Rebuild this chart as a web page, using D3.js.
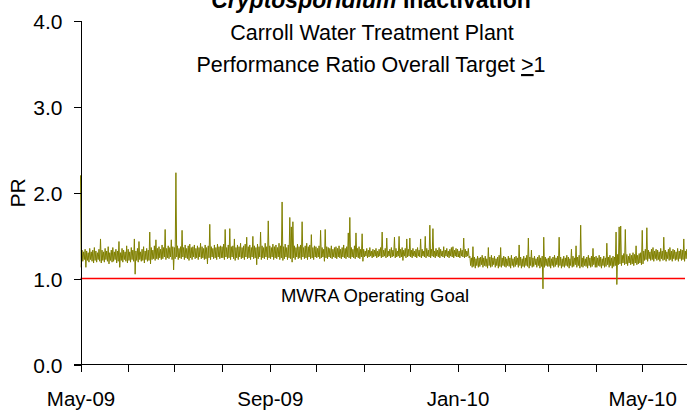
<!DOCTYPE html>
<html>
<head>
<meta charset="utf-8">
<script src="https://cdn.jsdelivr.net/npm/d3@7"></script>
<style>
  body { margin: 0; background: #fff; }
  svg { display: block; font-family: "Liberation Sans", Arial, sans-serif; }
  .axis path, .axis line { stroke: #000; shape-rendering: crispEdges; }
  .axis text { fill: #000; }
</style>
</head>
<body>
<div id="chart"></div>
<script>
var startDate = new Date(2009, 4, 1);
var endDate = new Date(2010, 5, 1);
var yTicks = [0, 1, 2, 3, 4];
var labelMonths = ["May-09", "Sep-09", "Jan-10", "May-10"];
var goalValue = 1.0;
var goalLabel = "MWRA Operating Goal";
var titleLines = ["Carroll Water Treatment Plant", "Performance Ratio Overall Target "];

// daily high of the PR trace, one row per month
var dailyHigh = [
  2.20, 1.33, 1.31, 1.34, 1.32, 1.30, 1.35, 1.31, 1.33, 1.36, 1.32, 1.30, 1.34, 1.46, 1.33, 1.31, 1.35, 1.32, 1.37, 1.30, 1.33, 1.36, 1.31, 1.34, 1.32, 1.43, 1.30, 1.35, 1.33, 1.31, 1.38,
  1.34, 1.31, 1.36, 1.33, 1.46, 1.32, 1.35, 1.43, 1.31, 1.34, 1.37, 1.32, 1.35, 1.33, 1.54, 1.36, 1.33, 1.38, 1.45, 1.35, 1.37, 1.34, 1.39, 1.36, 1.57, 1.35, 1.38, 1.36, 1.45, 1.37,
  1.36, 2.23, 1.38, 1.35, 1.37, 1.56, 1.36, 1.39, 1.35, 1.38, 1.40, 1.36, 1.37, 1.39, 1.35, 1.38, 1.36, 1.41, 1.37, 1.35, 1.39, 1.36, 1.38, 1.63, 1.37, 1.35, 1.39, 1.36, 1.40, 1.37, 1.38,
  1.37, 1.40, 1.57, 1.36, 1.39, 1.58, 1.37, 1.38, 1.46, 1.36, 1.39, 1.37, 1.41, 1.36, 1.38, 1.40, 1.48, 1.37, 1.39, 1.36, 1.49, 1.38, 1.36, 1.40, 1.37, 1.54, 1.38, 1.36, 1.41, 1.37, 1.67,
  1.38, 1.36, 1.40, 1.37, 1.39, 1.36, 1.41, 1.38, 1.89, 1.37, 1.40, 1.36, 1.39, 1.71, 1.60, 1.66, 1.38, 1.36, 1.40, 1.37, 1.39, 1.66, 1.36, 1.38, 1.41, 1.37, 1.39, 1.51, 1.36, 1.38,
  1.37, 1.35, 1.38, 1.56, 1.36, 1.34, 1.57, 1.37, 1.36, 1.35, 1.38, 1.34, 1.36, 1.37, 1.35, 1.38, 1.34, 1.36, 1.39, 1.35, 1.37, 1.53, 1.71, 1.36, 1.34, 1.38, 1.53, 1.35, 1.37, 1.34, 1.52,
  1.34, 1.32, 1.35, 1.33, 1.36, 1.32, 1.34, 1.33, 1.35, 1.32, 1.34, 1.36, 1.54, 1.33, 1.35, 1.47, 1.32, 1.34, 1.36, 1.33, 1.48, 1.35, 1.32, 1.49, 1.34, 1.36, 1.33, 1.35, 1.46, 1.34,
  1.47, 1.33, 1.35, 1.32, 1.34, 1.36, 1.33, 1.46, 1.34, 1.32, 1.49, 1.35, 1.33, 1.62, 1.34, 1.58, 1.32, 1.35, 1.33, 1.36, 1.34, 1.32, 1.37, 1.33, 1.35, 1.32, 1.34, 1.36, 1.37, 1.33, 1.35,
  1.34, 1.32, 1.35, 1.33, 1.47, 1.34, 1.32, 1.35, 1.26, 1.24, 1.37, 1.25, 1.23, 1.26, 1.24, 1.25, 1.27, 1.24, 1.26, 1.23, 1.36, 1.25, 1.27, 1.24, 1.26, 1.23, 1.25, 1.27, 1.36, 1.24, 1.26,
  1.25, 1.23, 1.26, 1.24, 1.27, 1.23, 1.25, 1.26, 1.24, 1.39, 1.25, 1.23, 1.26, 1.24, 1.27, 1.47, 1.25, 1.33, 1.24, 1.26, 1.23, 1.25, 1.27, 1.24, 1.26, 1.48, 1.25, 1.23,
  1.24, 1.26, 1.23, 1.25, 1.27, 1.24, 1.26, 1.48, 1.25, 1.23, 1.26, 1.24, 1.27, 1.25, 1.23, 1.34, 1.26, 1.24, 1.38, 1.25, 1.27, 1.62, 1.24, 1.26, 1.23, 1.25, 1.27, 1.24, 1.26, 1.35, 1.25,
  1.26, 1.24, 1.27, 1.25, 1.23, 1.26, 1.24, 1.41, 1.25, 1.27, 1.24, 1.26, 1.25, 1.54, 1.28, 1.60, 1.61, 1.27, 1.29, 1.57, 1.28, 1.26, 1.29, 1.27, 1.30, 1.28, 1.38, 1.27, 1.29, 1.30,
  1.56, 1.32, 1.34, 1.59, 1.33, 1.31, 1.34, 1.36, 1.32, 1.34, 1.33, 1.31, 1.35, 1.32, 1.48, 1.33, 1.31, 1.34, 1.36, 1.32, 1.34, 1.33, 1.31, 1.35, 1.32, 1.34, 1.33, 1.46, 1.32, 1.34
];

// daily low of the PR trace, one row per month
var dailyLow = [
  1.13, 1.20, 1.22, 1.13, 1.21, 1.19, 1.22, 1.20, 1.18, 1.21, 1.19, 1.22, 1.20, 1.18, 1.21, 1.19, 1.22, 1.20, 1.17, 1.21, 1.19, 1.20, 1.22, 1.18, 1.20, 1.13, 1.21, 1.19, 1.22, 1.20, 1.18,
  1.21, 1.19, 1.22, 1.20, 1.05, 1.21, 1.19, 1.22, 1.20, 1.21, 1.18, 1.22, 1.20, 1.21, 1.17, 1.22, 1.23, 1.21, 1.23, 1.22, 1.24, 1.22, 1.23, 1.25, 1.22, 1.24, 1.23, 1.25, 1.22, 1.10,
  1.23, 1.25, 1.22, 1.24, 1.23, 1.25, 1.22, 1.24, 1.23, 1.21, 1.24, 1.22, 1.25, 1.23, 1.24, 1.22, 1.25, 1.23, 1.24, 1.22, 1.23, 1.17, 1.24, 1.22, 1.25, 1.23, 1.24, 1.22, 1.25, 1.23, 1.24,
  1.24, 1.22, 1.25, 1.23, 1.24, 1.22, 1.25, 1.23, 1.21, 1.24, 1.22, 1.25, 1.23, 1.24, 1.22, 1.25, 1.23, 1.24, 1.22, 1.25, 1.23, 1.24, 1.16, 1.23, 1.25, 1.22, 1.24, 1.23, 1.25, 1.22, 1.24,
  1.23, 1.25, 1.22, 1.24, 1.23, 1.25, 1.22, 1.24, 1.21, 1.23, 1.25, 1.22, 1.24, 1.23, 1.19, 1.24, 1.22, 1.25, 1.23, 1.24, 1.22, 1.25, 1.23, 1.24, 1.22, 1.25, 1.23, 1.24, 1.22, 1.25,
  1.24, 1.25, 1.23, 1.24, 1.25, 1.20, 1.24, 1.23, 1.25, 1.24, 1.23, 1.25, 1.24, 1.23, 1.25, 1.24, 1.23, 1.25, 1.24, 1.23, 1.25, 1.24, 1.23, 1.25, 1.24, 1.23, 1.25, 1.24, 1.23, 1.25, 1.20,
  1.25, 1.26, 1.24, 1.25, 1.26, 1.24, 1.25, 1.26, 1.24, 1.25, 1.26, 1.24, 1.25, 1.26, 1.24, 1.25, 1.26, 1.24, 1.25, 1.26, 1.24, 1.25, 1.26, 1.24, 1.25, 1.21, 1.26, 1.24, 1.25, 1.26,
  1.25, 1.24, 1.26, 1.25, 1.24, 1.26, 1.25, 1.24, 1.26, 1.25, 1.24, 1.26, 1.25, 1.24, 1.26, 1.25, 1.24, 1.26, 1.25, 1.24, 1.26, 1.25, 1.24, 1.26, 1.25, 1.24, 1.26, 1.25, 1.24, 1.26, 1.25,
  1.25, 1.24, 1.26, 1.25, 1.24, 1.25, 1.26, 1.24, 1.15, 1.13, 1.14, 1.12, 1.15, 1.13, 1.14, 1.16, 1.13, 1.15, 1.14, 1.12, 1.15, 1.13, 1.14, 1.16, 1.13, 1.15, 1.12, 1.14, 1.13, 1.15, 1.14,
  1.13, 1.15, 1.14, 1.12, 1.15, 1.13, 1.14, 1.16, 1.13, 1.15, 1.12, 1.14, 1.13, 1.15, 1.14, 1.12, 1.15, 1.13, 1.14, 1.16, 1.13, 1.15, 1.12, 1.14, 0.88, 1.13, 1.15, 1.14,
  1.14, 1.12, 1.15, 1.13, 1.14, 1.16, 1.13, 1.15, 1.12, 1.14, 1.13, 1.15, 1.14, 1.12, 1.15, 1.13, 1.14, 1.16, 1.13, 1.15, 1.12, 1.14, 1.13, 1.15, 1.14, 1.12, 1.15, 1.13, 1.14, 1.16, 1.13,
  1.13, 1.15, 1.14, 1.12, 1.15, 1.13, 1.14, 1.16, 1.13, 1.15, 1.12, 1.14, 1.15, 0.93, 1.16, 1.17, 1.15, 1.18, 1.16, 1.17, 1.15, 1.18, 1.16, 1.17, 1.15, 1.18, 1.16, 1.17, 1.18, 1.16,
  1.17, 1.21, 1.22, 1.20, 1.23, 1.21, 1.22, 1.20, 1.23, 1.21, 1.22, 1.20, 1.23, 1.21, 1.22, 1.20, 1.23, 1.21, 1.22, 1.20, 1.23, 1.21, 1.22, 1.20, 1.23, 1.21, 1.22, 1.20, 1.23, 1.21
];

var width = 687, height = 413;

var svg = d3.select('#chart')
  .append('svg')
  .attr('width', width)
  .attr('height', height);

var x = d3.scaleTime()
  .domain([startDate, endDate])
  .range([80.5, 80.5 + 396 * 1.539]);

var y = d3.scaleLinear()
  .domain([0, 4])
  .range([364.5, 20.5]);

// title
var title = svg.append('g')
  .attr('text-anchor', 'middle')
  .attr('fill', '#000');

var t0 = title.append('text')
  .attr('x', 371)
  .attr('y', 8)
  .style('font-size', '23px')
  .style('font-weight', 'bold');
t0.append('tspan').style('font-style', 'italic').text('Cryptosporidium');
t0.append('tspan').text(' Inactivation');

title.append('text')
  .attr('x', 372)
  .attr('y', 40)
  .style('font-size', '21.5px')
  .text(titleLines[0]);

var t2 = title.append('text')
  .attr('x', 371)
  .attr('y', 72)
  .style('font-size', '21.5px');
t2.append('tspan').text(titleLines[1]);
t2.append('tspan').style('text-decoration', 'underline').text('>');
t2.append('tspan').text('1');

// goal line
svg.append('line')
  .attr('x1', x(startDate))
  .attr('x2', 685)
  .attr('y1', y(goalValue))
  .attr('y2', y(goalValue))
  .attr('stroke', '#ff0000')
  .attr('stroke-width', 1.5);

svg.append('text')
  .attr('x', 375)
  .attr('y', 302)
  .attr('text-anchor', 'middle')
  .style('font-size', '18.5px')
  .text(goalLabel);

// PR trace: each day goes to its high then its low
var points = [];
dailyHigh.forEach(function (v, i) {
  var day = d3.timeDay.offset(startDate, i);
  points.push({date: day, value: v});
  points.push({date: d3.timeHour.offset(day, 12), value: dailyLow[i]});
});

var line = d3.line()
  .x(function (d) { return x(d.date); })
  .y(function (d) { return y(d.value); });

svg.append('path')
  .datum(points)
  .attr('fill', 'none')
  .attr('stroke', '#808000')
  .attr('stroke-width', 1)
  .attr('d', line);

// axes
var yAxis = svg.append('g')
  .attr('class', 'axis')
  .attr('transform', 'translate(' + x(startDate) + ',0)')
  .call(d3.axisLeft(y)
    .tickValues(yTicks)
    .tickSize(7)
    .tickSizeOuter(0)
    .tickPadding(11)
    .tickFormat(d3.format('.1f')));
yAxis.selectAll('text')
  .style('font-size', '21px')
  .attr('dy', '0.4em');

var monthFormat = d3.timeFormat('%b-%y');
var xAxis = svg.append('g')
  .attr('class', 'axis')
  .attr('transform', 'translate(0,' + y(0) + ')')
  .call(d3.axisBottom(x)
    .ticks(d3.timeMonth.every(1))
    .tickSize(7)
    .tickSizeOuter(0)
    .tickFormat(function (d) {
      var s = monthFormat(d);
      return labelMonths.indexOf(s) >= 0 ? s : '';
    }));
xAxis.select('.domain')
  .attr('d', 'M' + (x(startDate) - 7) + ',0H' + width);
xAxis.selectAll('text')
  .style('font-size', '20.5px')
  .attr('y', 41)
  .attr('dy', 0);

svg.append('text')
  .attr('transform', 'translate(25,193) rotate(-90)')
  .attr('text-anchor', 'middle')
  .style('font-size', '21px')
  .text('PR');
</script>
</body>
</html>
